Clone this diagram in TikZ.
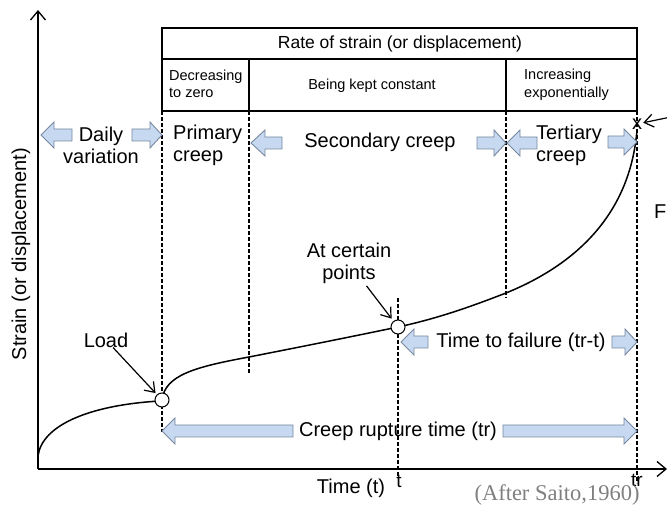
\documentclass[tikz,border=0pt]{standalone}
\usepackage{fontspec}
\setmainfont{Liberation Sans}
\newfontfamily\saitofont{Liberation Serif}
\usetikzlibrary{arrows.meta}

\definecolor{arrowfill}{RGB}{198,217,241}
\definecolor{arrowline}{RGB}{120,136,158}
\definecolor{notegray}{RGB}{128,128,128}

\tikzset{
  axis/.style={line width=1.3pt, -{Straight Barb[length=9pt,width=15pt]}},
  pointer/.style={line width=1.2pt, -{Straight Barb[length=9pt,width=13pt]}},
  curve/.style={line width=1.5pt},
  guide/.style={line width=1.1pt, dash pattern=on 4pt off 2pt},
  box/.style={line width=1.3pt},
  fatarrow/.style={draw=arrowline, fill=arrowfill, line width=0.9pt, line join=miter},
  pt/.style={circle, draw=black, fill=white, line width=1pt, inner sep=0pt, minimum size=14pt},
  big/.style={font=\fontsize{20}{22}\selectfont, inner sep=0pt},
  small/.style={font=\fontsize{14.5}{17.5}\selectfont, inner sep=0pt}
}

\newcommand{\fatarrow}[4]{%
  \filldraw[fatarrow] (#1,#4-6) -- (#2,#4-6) -- (#2,#4-13) -- (#3,#4) -- (#2,#4+13) -- (#2,#4+6) -- (#1,#4+6) -- cycle;}

\begin{document}
\begin{tikzpicture}[x=1pt, y=-1pt]
  \useasboundingbox (0,0) rectangle (667,510);

  \coordinate (O) at (38,469);
  \coordinate (ytip) at (38,10);
  \coordinate (xtip) at (667,469);
  \draw[axis] (O) -- (ytip);
  \draw[axis] (O) -- (xtip);

  \draw[box] (162,28) rectangle (637,111);
  \draw[box] (162,59) -- (637,59);
  \draw[box] (249,59) -- (249,111);
  \draw[box] (506,59) -- (506,111);

  \draw[guide] (162,111) -- (162,432);
  \draw[guide] (249,111) -- (249,373);
  \draw[guide] (506,111) -- (506,298);
  \draw[guide] (637,111) -- (637,483);
  \draw[guide] (398,298) -- (398,477);

  \node[font=\fontsize{17.5}{20}\selectfont, inner sep=0pt] (rate) at (400,44) {Rate of strain (or displacement)};
  \node[small, anchor=west, align=left] (decr) at (169,84) {Decreasing\\to zero};
  \node[small] (const) at (372,86) {Being kept constant};
  \node[small, anchor=west, align=left] (incr) at (524,85) {Increasing\\exponentially};

  \node[big, align=center] (daily) at (101,145) {Daily\\variation};
  \node[big, anchor=west, align=left] (primary) at (173,145) {Primary\\creep};
  \node[big] (secondary) at (380,142) {Secondary creep};
  \node[big, anchor=west, align=left] (tertiary) at (536,145) {Tertiary\\creep};

  \draw[curve] (38,456) .. controls (42,425) and (90,405) .. (160,401);
  \draw[curve] (162,400) .. controls (165,375) and (195,367) .. (249,357)
    .. controls (300,347) and (350,337) .. (398,327)
    .. controls (440,318) and (475,305) .. (506,293)
    .. controls (575,265) and (630,215) .. (637,130);

  \node[pt] (loadpt) at (162,400) {};
  \node[pt] (tpt) at (398,327) {};
  \node[font=\fontsize{20}{20}\selectfont, inner sep=1pt] (xmark) at (637,124) {x};

  \node[big] (load) at (106,340) {Load};
  \draw[pointer, shorten >=2pt] (load) -- (loadpt);
  \node[big, align=center] (certain) at (349,263) {At certain\\points};
  \draw[pointer, shorten >=3pt, shorten <=3pt] (certain) -- (tpt);
  \coordinate (failtail) at (700,111);
  \draw[pointer] (failtail) -- (xmark);
  \node[big, anchor=west] (fail) at (654,212) {F};

  \fatarrow{72}{54}{41}{135}
  \fatarrow{132}{150}{162}{135}
  \fatarrow{282}{265}{251}{143}
  \fatarrow{477}{494}{506}{143}
  \fatarrow{537}{520}{507}{143}
  \fatarrow{608}{624}{637}{142}

  \node[big] (ttf) at (521,342) {Time to failure (tr-t)};
  \fatarrow{428}{414}{401}{342}
  \fatarrow{612}{625}{637}{342}

  \node[big] (crt) at (398,431) {Creep rupture time (tr)};
  \fatarrow{293}{175}{162}{431}
  \fatarrow{503}{624}{637}{431}

  \node[big, rotate=90] (ylabel) at (21,254) {Strain (or displacement)};
  \node[big] (xlabel) at (351,488) {Time (t)};
  \node[font=\fontsize{19}{20}\selectfont, inner sep=0pt] (tlab) at (399,481) {t};
  \node[font=\fontsize{19}{20}\selectfont, inner sep=0pt] (trlab) at (637,480) {tr};
  \node[font=\saitofont\fontsize{22.5}{24}\selectfont, text=notegray, inner sep=0pt] (saito) at (557,495) {(After Saito,1960)};
\end{tikzpicture}
\end{document}
